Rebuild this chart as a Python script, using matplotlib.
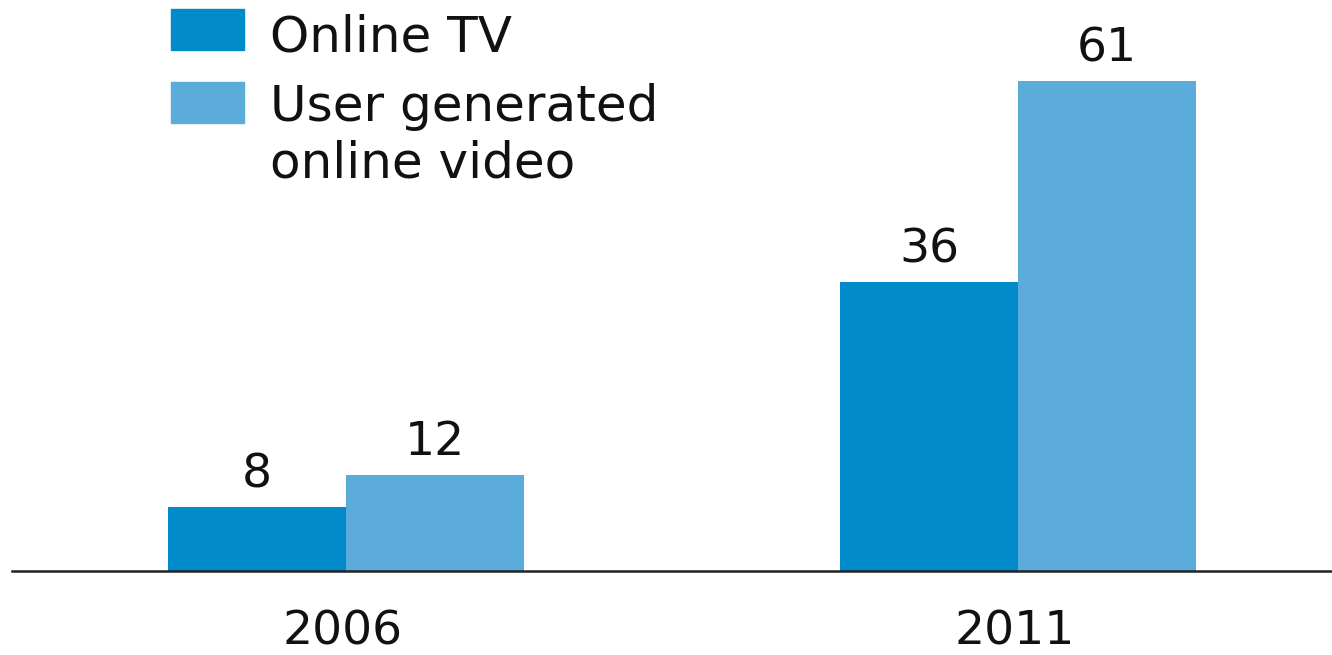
import matplotlib
matplotlib.use("Agg")
import matplotlib.pyplot as plt
from matplotlib.patches import Rectangle
import numpy as np

# --- data ---
years = ["2006", "2011"]
online_tv = [8, 36]
user_video = [12, 61]
series_names = ["Online TV", "User generated\nonline video"]

col_tv = "#028bca"
col_ugc = "#5bacdb"

W, H = 1332, 655
fig = plt.figure(figsize=(W / 100, H / 100), dpi=100)
fig.patch.set_facecolor("white")

# axes: baseline sits 84 px above the bottom edge
ax = fig.add_axes([12 / W, 84 / H, 1 - 12 / W, 1 - 84 / H])
ax.set_xlim(-0.497, 1.467)
ax.set_ylim(0, 71.1)
for side in ["top", "right", "left"]:
    ax.spines[side].set_visible(False)
ax.spines["bottom"].set_color("#222222")
ax.spines["bottom"].set_linewidth(1.8)
ax.set_xticks([])
ax.set_yticks([])

x = np.arange(len(years))
w = 0.265
b1 = ax.bar(x - w / 2, online_tv, w, color=col_tv, zorder=2)
b2 = ax.bar(x + w / 2, user_video, w, color=col_ugc, zorder=2)

fs = 34
for bars, vals in [(b1, online_tv), (b2, user_video)]:
    for r, v in zip(bars, vals):
        ax.text(r.get_x() + r.get_width() / 2, v + 2.4, str(v),
                ha="center", va="baseline", fontsize=fs, color="#111111")

# year labels under the baseline
for xi, yr in zip(x, years):
    ax.text(xi - 0.005, -9.2, yr, ha="center", va="baseline",
            fontsize=fs, color="#111111", clip_on=False)

# --- legend drawn by hand ---
def fx(px):
    return px / W

def fy(py):
    return 1 - py / H

sq = [(171, 9, 50, col_tv), (171, 82, 123, col_ugc)]
for left, top, bot, c in sq:
    fig.patches.append(Rectangle((fx(left), fy(bot)), fx(244) - fx(left),
                                 fy(top) - fy(bot), transform=fig.transFigure,
                                 color=c))

lfs = 36
fig.text(fx(270), fy(51), series_names[0], fontsize=lfs, va="baseline",
         color="#111111")
for i, line in enumerate(series_names[1].split("\n")):
    fig.text(fx(270), fy(121 + 56 * i), line, fontsize=lfs, va="baseline",
             color="#111111")

fig.savefig("out.png", dpi=100, facecolor="white")
